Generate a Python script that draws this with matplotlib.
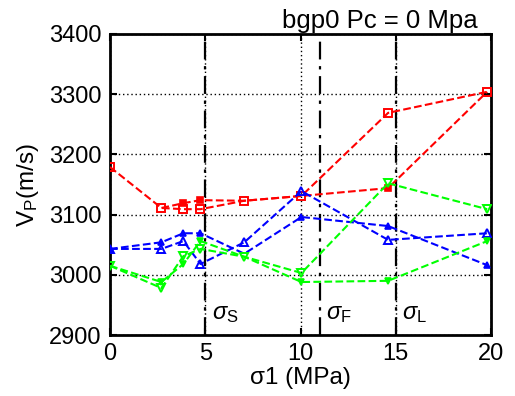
import numpy as np
import matplotlib
matplotlib.use("Agg")
import matplotlib.pyplot as plt

# stress steps (MPa) shared by every series
sigma1 = [0, 2.7, 3.85, 4.75, 7.05, 10.05, 14.6, 19.8]

# Vp (m/s), open markers / filled markers per colour
vp_red_open = [3179, 3111, 3109, 3109, 3123, 3131, 3269, 3304]
vp_red_fill = [np.nan, 3111, 3119, 3124, 3123, 3131, 3144, 3304]
vp_blue_open = [3043, 3043, 3056, 3018, 3054, 3139, 3058, 3069]
vp_blue_fill = [3043, 3054, 3069, 3069, 3035, 3096, 3081, 3016]
vp_green_open = [3015, 2978, 3031, 3043, 3030, 3003, 3152, 3109]
vp_green_fill = [3015, 2988, 3018, 3056, 3030, 2988, 2990, 3056]

# characteristic stresses
sig_marks = [5, 11, 15]
sig_names = ["S", "F", "L"]

x_ticks = [0, 5, 10, 15, 20]
y_ticks = [2900, 3000, 3100, 3200, 3300, 3400]

plt.rcParams["font.family"] = ["Liberation Sans", "DejaVu Sans"]
plt.rcParams["mathtext.fontset"] = "custom"
plt.rcParams["mathtext.rm"] = "Liberation Sans"
plt.rcParams["mathtext.it"] = "Liberation Sans:italic"

fig = plt.figure(figsize=(5.15, 3.96), dpi=100)
ax = fig.add_axes([110 / 515, 1 - 335 / 396, 381 / 515, 301 / 396])

ax.grid(True, color="black", linestyle=(0, (1, 2)), linewidth=1.0)

for xs in sig_marks:
    ax.axvline(xs, color="black", linestyle=(0, (8, 3, 1.5, 3)),
               linewidth=1.6, zorder=2)

lw = 1.5
series = [
    ("red", "s", vp_red_open, vp_red_fill, [2, 3, 6]),
    ("blue", "^", vp_blue_open, vp_blue_fill, [0, 1, 2, 3, 5, 6, 7]),
    ("#00ff00", "v", vp_green_open, vp_green_fill, [1, 2, 3, 5, 6, 7]),
]
for col, mk, yo, yf, idx in series:
    ax.plot(sigma1, yo, linestyle="--", color=col, linewidth=lw, marker=mk,
            markersize=5.5, markerfacecolor="none", markeredgewidth=1.4,
            zorder=3)
    ax.plot(sigma1, yf, linestyle="--", color=col, linewidth=lw, marker=mk,
            markersize=4.5, markerfacecolor=col, markeredgewidth=1.2,
            markevery=idx, zorder=3)

for xs, nm in zip(sig_marks, sig_names):
    ax.text(xs + 0.35, 2935, r"$\sigma_{\mathrm{%s}}$" % nm, fontsize=17,
            va="center", ha="left")

ax.set_xlim(0, 20)
ax.set_ylim(2900, 3400)
ax.set_xticks(x_ticks)
ax.set_yticks(y_ticks)
ax.tick_params(direction="in", top=True, right=True, length=5, width=1.5,
               labelsize=17)
ax.tick_params(axis="x", pad=6)
ax.tick_params(axis="y", pad=6)
for sp in ax.spines.values():
    sp.set_linewidth(2)

ax.set_xlabel("σ1 (MPa)", fontsize=17.5, labelpad=1)
ax.set_ylabel(r"V$_\mathrm{P}$(m/s)", fontsize=17.5, labelpad=6)

fig.text(478 / 515, 1 - 28 / 396, "bgp0 Pc = 0 Mpa", fontsize=18.5,
         ha="right", va="baseline")

fig.savefig("out.png", dpi=100)
